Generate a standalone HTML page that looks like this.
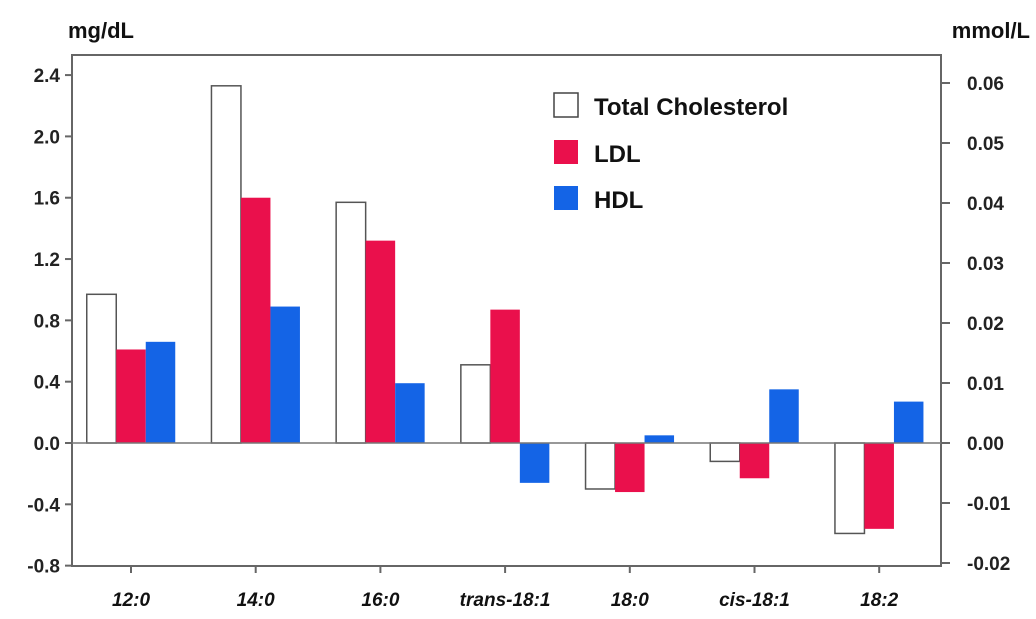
<!DOCTYPE html>
<html><head><meta charset="utf-8"><style>
body{margin:0;background:#fff;}
svg{display:block;font-family:"Liberation Sans",Arial,sans-serif;}
</style></head><body>
<svg id="chart" width="1036" height="619">
<rect x="72" y="55" width="869" height="511" fill="none" stroke="#666" stroke-width="2"/>
<text x="68" y="38" font-size="22" font-weight="bold" fill="#111">mg/dL</text>
<text x="1030" y="38" font-size="22" font-weight="bold" fill="#111" text-anchor="end">mmol/L</text>
<g id="bars"></g><g id="axes"></g>
<g>
<rect x="554" y="93" width="24" height="24" fill="#fff" stroke="#444" stroke-width="1.5"/>
<text x="594" y="115" font-size="24" font-weight="bold" fill="#111">Total Cholesterol</text>
<rect x="554" y="140" width="24" height="24" fill="#ea104c"/>
<text x="594" y="162" font-size="24" font-weight="bold" fill="#111">LDL</text>
<rect x="554" y="186" width="24" height="24" fill="#1464e6"/>
<text x="594" y="208" font-size="24" font-weight="bold" fill="#111">HDL</text>
</g>
</svg>
<script>
const categories=["12:0","14:0","16:0","trans-18:1","18:0","cis-18:1","18:2"];
const totalChol=[0.97,2.33,1.57,0.51,-0.30,-0.12,-0.59];
const ldl=[0.61,1.60,1.32,0.87,-0.32,-0.23,-0.56];
const hdl=[0.66,0.89,0.39,-0.26,0.05,0.35,0.27];
const leftTicks=[2.4,2.0,1.6,1.2,0.8,0.4,0.0,-0.4,-0.8];
const rightTicks=[0.06,0.05,0.04,0.03,0.02,0.01,0.00,-0.01,-0.02];
const NS="http://www.w3.org/2000/svg";
const y0=443, pxPer=153.3;
function yL(v){return y0-v*pxPer;}
function yR(v){return y0-v*6000;}
function xC(i){return 131+i*124.7;}
const bw=29.5;
const bars=document.getElementById('bars'), axes=document.getElementById('axes');
function mk(tag,attrs,parent){const e=document.createElementNS(NS,tag);for(const k in attrs)e.setAttribute(k,attrs[k]);parent.appendChild(e);return e;}
const series=[[totalChol,"#fff","#555","total"],[ldl,"#ea104c","none","ldl"],[hdl,"#1464e6","none","hdl"]];
categories.forEach((c,i)=>{
 series.forEach((s,j)=>{
  const v=s[0][i];const x=xC(i)-1.5*bw+j*bw;
  const r=mk('rect',{x:x,y:Math.min(yL(v),y0),width:bw,height:Math.abs(yL(v)-y0),fill:s[1],stroke:s[2],'stroke-width':1.5},bars);
  
  
 });
 const t=mk('line',{x1:xC(i),x2:xC(i),y1:566,y2:573,stroke:'#666','stroke-width':2},axes);
 
 
 const l=mk('text',{x:xC(i),y:606,'font-size':19,'font-weight':'bold','font-style':'italic','text-anchor':'middle',fill:'#111'},axes);
 l.textContent=c;
 
 
});
const zl=mk('line',{x1:72,x2:941,y1:y0,y2:y0,stroke:'#777','stroke-width':1.5},axes);


leftTicks.forEach(v=>{
 const y=yL(v);
 const t=mk('line',{x1:65,x2:72,y1:y,y2:y,stroke:'#666','stroke-width':2},axes);
 
 
 const l=mk('text',{x:60,y:y+7,'font-size':19,'font-weight':'bold','text-anchor':'end',fill:'#222'},axes);
 l.textContent=v.toFixed(1);
 
 
});
rightTicks.forEach(v=>{
 const y=yR(v);
 const t=mk('line',{x1:941,x2:950,y1:y,y2:y,stroke:'#666','stroke-width':2},axes);
 
 
 const l=mk('text',{x:967,y:y+7,'font-size':19,'font-weight':'bold',fill:'#222'},axes);
 l.textContent=v.toFixed(2);
 
 
});
</script>
</body></html>
